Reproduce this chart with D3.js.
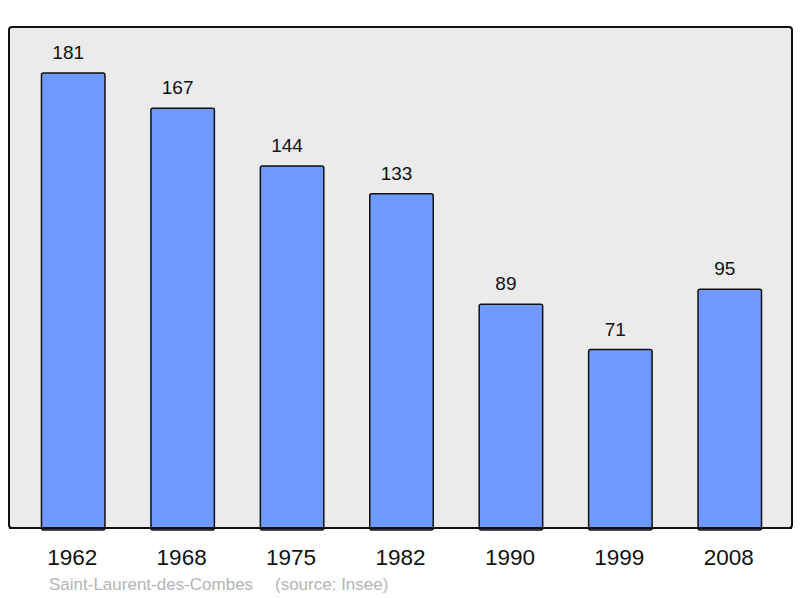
<!DOCTYPE html>
<html lang="en">
<head>
<meta charset="UTF-8">
<title>Population</title>
<script src="https://d3js.org/d3.v7.min.js"></script>
<style>
  body { margin: 0; background: #fff; }
  text { font-family: "Liberation Sans", Arial, sans-serif; }
</style>
</head>
<body>
<svg id="chart" width="800" height="598"></svg>
<script>
// data
var years = ['1962', '1968', '1975', '1982', '1990', '1999', '2008']
var population = [181, 167, 144, 133, 89, 71, 95]
var townName = 'Saint-Laurent-des-Combes'
var sourceText = '(source: Insee)'

const svg = d3.select('#chart')

// frame of the plot area
const frame = { left: 9, top: 27, right: 792, bottom: 528 }

svg.append('rect')
   .attr('x', frame.left)
   .attr('y', frame.top)
   .attr('width', frame.right - frame.left)
   .attr('height', frame.bottom - frame.top)
   .attr('rx', 3)
   .attr('fill', '#ebebeb')
   .attr('stroke', '#111')
   .attr('stroke-width', 2)

const xScale = d3.scaleBand()
                 .domain(years)
                 .range([18.5, 784.5])
                 .paddingInner(0.42)
                 .paddingOuter(0.21)

const yScale = d3.scaleLinear()
                 .domain([0, 181])
                 .range([frame.bottom, 73])

// bars
svg.selectAll('rect.bar')
   .data(population)
   .enter()
   .append('rect')
   .attr('class', 'bar')
   .attr('x', (d, i) => xScale(years[i]))
   .attr('y', d => yScale(d))
   .attr('width', xScale.bandwidth())
   .attr('height', d => frame.bottom - yScale(d) + 2)
   .attr('rx', 2)
   .attr('fill', '#7099ff')
   .attr('stroke', '#111')
   .attr('stroke-width', 1.5)

// redraw bottom edge of frame over the bars
svg.append('line')
   .attr('x1', frame.left)
   .attr('x2', frame.right)
   .attr('y1', frame.bottom)
   .attr('y2', frame.bottom)
   .attr('stroke', '#111')
   .attr('stroke-width', 2)

// value labels (sit a little left of the bar centre, like the original)
svg.selectAll('.value-label')
   .data(population)
   .enter()
   .append('text')
   .attr('class', 'value-label')
   .attr('x', (d, i) => xScale(years[i]) + xScale.bandwidth() / 2 - 5)
   .attr('y', d => yScale(d) - 14)
   .attr('text-anchor', 'middle')
   .attr('font-size', 19)
   .attr('fill', '#111')
   .text(d => d)

// year labels
svg.selectAll('.year-label')
   .data(years)
   .enter()
   .append('text')
   .attr('class', 'year-label')
   .attr('x', d => xScale(d) + xScale.bandwidth() / 2 - 1)
   .attr('y', 565)
   .attr('text-anchor', 'middle')
   .attr('font-size', 22.5)
   .attr('fill', '#111')
   .text(d => d)

// caption
svg.append('text')
   .attr('x', 49)
   .attr('y', 590)
   .attr('font-size', 17)
   .attr('fill', '#b4b4b4')
   .text(townName)

svg.append('text')
   .attr('x', 275)
   .attr('y', 590)
   .attr('font-size', 17)
   .attr('fill', '#b4b4b4')
   .text(sourceText)
</script>
</body>
</html>
